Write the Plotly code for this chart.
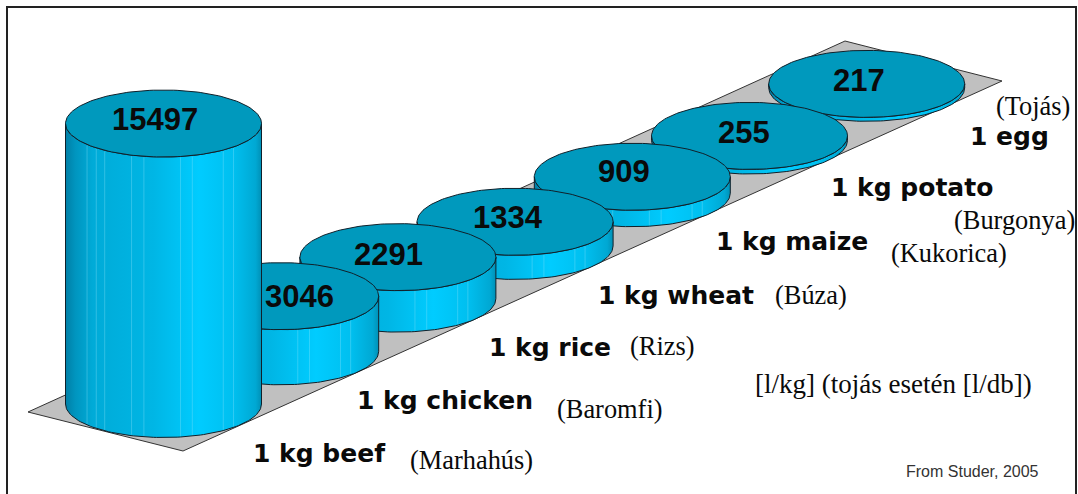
import numpy as np
import plotly.graph_objects as go

foods = ["1 kg beef", "1 kg chicken", "1 kg rice", "1 kg wheat", "1 kg maize", "1 kg potato", "1 egg"]
foods_hu = ["(Marhahús)", "(Baromfi)", "(Rizs)", "(Búza)", "(Kukorica)", "(Burgonya)", "(Tojás)"]
values = [15497, 3046, 2291, 1334, 909, 255, 217]

# value labels offset from ellipse centre
label_dx = [-9, 19, -9, -7, -8, -6, -8]
label_dy = [-4, 0, -3, -4, -5, -3, -3]
# label anchors (left edge, middle)
food_x = [250.5, 354.5, 486.5, 595.5, 713.5, 828.5, 967.5]
food_y = [453, 400, 347, 295, 241, 187, 136]
hu_x = [407.5, 554.5, 627.5, 772.5, 888.5, 951.5, 993.5]
hu_y = [460, 409, 346, 295, 253, 220, 106]
streaks = [0.11, 0.157, 0.20, 0.337, 0.40, 0.587, 0.647, 0.805, 0.857]

RX, RY = 98, 33.5
BASE0 = (163.5, 404.0)      # front cylinder base centre
STEP = (117.2, -52.7)       # spacing along the floor
SCALE = 0.0181              # px per litre

side_scale = [[0, "#007FA6"], [0.05, "#0095BF"], [0.14, "#00ABD8"], [0.45, "#00B6E5"],
              [0.68, "#00CCFF"], [0.86, "#00BFEF"], [0.97, "#00A8D3"], [1, "#0090B6"]]
TOP = "#0099BD"
EDGE = "#10202A"
t = np.linspace(0, 2 * np.pi, 181)

fig = go.Figure()

# floor
fig.add_trace(go.Scatter(x=[28, 183, 1002, 845, 28], y=[412, 451, 81, 41, 412], mode="lines", fill="toself",
                         fillcolor="#C0C0C0", line=dict(color="#333333", width=1), hoverinfo="skip"))

centres = []
for i in range(len(values) - 1, -1, -1):
    cx = BASE0[0] + STEP[0] * i
    by = BASE0[1] + STEP[1] * i
    ty = by - values[i] * SCALE
    centres.append((cx, ty))
    a = np.linspace(0, np.pi, 91)
    xs = np.r_[cx + RX * np.cos(a), cx + RX * np.cos(a[::-1])]
    ys = np.r_[by + RY * np.sin(a), ty + RY * np.sin(a[::-1])]
    xs = np.r_[xs, xs[0]]
    ys = np.r_[ys, ys[0]]
    # side
    fig.add_trace(go.Scatter(x=xs, y=ys, mode="lines", fill="toself",
                             fillgradient=dict(type="horizontal", colorscale=side_scale),
                             line=dict(color=EDGE, width=1), hoverinfo="skip"))
    # light streaks on the side
    if values[i] > 500:
        sx, sy = [], []
        for f in streaks:
            x0 = cx - RX + 2 * RX * f
            u = (x0 - cx) / RX
            arc = RY * np.sqrt(1 - u * u)
            sx += [x0, x0, None]
            sy += [ty + arc + 1, by + arc - 1, None]
        fig.add_trace(go.Scatter(x=sx, y=sy, mode="lines", line=dict(color="rgba(140,225,250,0.35)", width=1),
                                 hoverinfo="skip"))
    # top
    fig.add_trace(go.Scatter(x=cx + RX * np.cos(t), y=ty + RY * np.sin(t), mode="lines", fill="toself",
                             fillcolor=TOP, line=dict(color=EDGE, width=1), hoverinfo="skip"))

centres = centres[::-1]

ann = []
for i, v in enumerate(values):
    ann.append(dict(x=centres[i][0] + label_dx[i], y=centres[i][1] + label_dy[i], text=f"<b>{v}</b>",
                    showarrow=False, xanchor="center", yanchor="middle",
                    font=dict(family="Liberation Sans", size=31, color="#0a0a0a")))
    ann.append(dict(x=food_x[i], y=food_y[i], text=f"<b>{foods[i]}</b>", showarrow=False,
                    xanchor="left", yanchor="middle",
                    font=dict(family="DejaVu Sans", size=25, color="#0a0a0a")))
    ann.append(dict(x=hu_x[i], y=hu_y[i], text=foods_hu[i], showarrow=False,
                    xanchor="left", yanchor="middle",
                    font=dict(family="Liberation Serif", size=26.4, color="#0a0a0a")))
ann.append(dict(x=752.5, y=384, text="[l/kg] (tojás esetén [l/db])", showarrow=False, xanchor="left", yanchor="middle",
                font=dict(family="Liberation Serif", size=27, color="#0a0a0a")))
ann.append(dict(x=903.5, y=471, text="From Studer, 2005", showarrow=False, xanchor="left", yanchor="middle",
                font=dict(family="Liberation Sans", size=16, color="#333333")))

fig.update_layout(
    width=1078, height=494, margin=dict(l=0, r=0, t=0, b=0), showlegend=False,
    paper_bgcolor="white", plot_bgcolor="white",
    xaxis=dict(range=[0, 1078], visible=False, fixedrange=True),
    yaxis=dict(range=[494, 0], visible=False, fixedrange=True),
    annotations=ann,
    shapes=[dict(type="rect", xref="x", yref="y", x0=7, y0=7, x1=1076, y1=510,
                 line=dict(color="#222222", width=2), layer="below")],
)
fig.write_html("out.html", config=dict(displayModeBar=False),
               post_script="document.body.style.margin='0';document.documentElement.style.overflow='hidden';")
